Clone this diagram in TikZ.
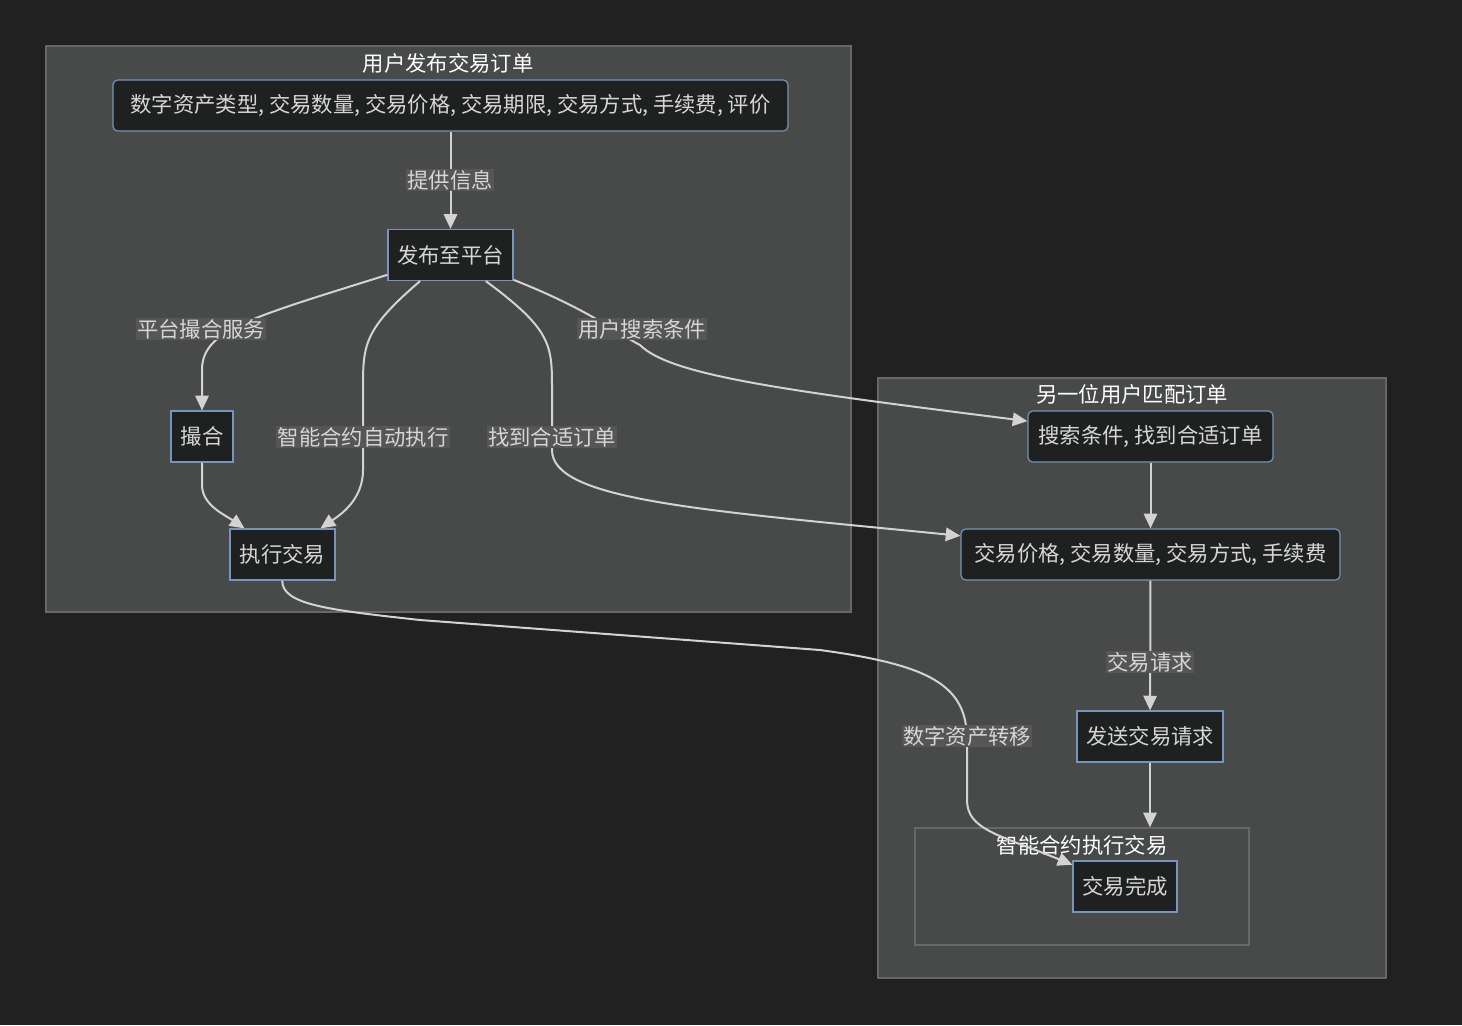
\documentclass[tikz,border=0pt]{standalone}
\usepackage{fontspec}
\usepackage{tikz}
\usetikzlibrary{arrows.meta,fit}
\newfontfamily\cjk{Noto Sans CJK SC}
\definecolor{canvas}{RGB}{33,33,33}
\definecolor{clusterfill}{RGB}{72,73,73}
\definecolor{clusterline}{RGB}{104,104,104}
\definecolor{boxfill}{RGB}{31,32,32}
\definecolor{boxline}{RGB}{118,148,188}
\definecolor{inktext}{RGB}{214,214,214}
\definecolor{labelfill}{RGB}{86,86,86}
\definecolor{edgeline}{RGB}{211,211,211}

\begin{document}
\begin{tikzpicture}[x=0.75pt, y=-0.75pt,
        every node/.style = {font=\cjk\fontsize{16pt}{19pt}\selectfont, text=inktext},
        box/.style = {shape=rectangle, draw=boxline, fill=boxfill, line width=0.9pt,
                      minimum height=38.25pt, inner sep=0pt},
        rbox/.style = {box, rounded corners=3.5pt},
        cluster/.style = {draw=clusterline, fill=clusterfill, line width=0.9pt, inner sep=0pt},
        cltitle/.style = {text=white},
        lbl/.style = {fill=labelfill, inner sep=1pt},
        flow/.style = {draw=edgeline, line width=1.5pt,
                       -{Triangle[length=11pt,width=10pt]}}]
    \fill[canvas] (0,0) rectangle (1462,1025);

    \node[cluster, fit={(46,46) (851,612)}] (c1) {};
    \node[cluster, fit={(878,378) (1386,978)}] (c2) {};
    \node[cluster, fit={(915,828) (1249,945)}] (c3) {};
    \node[cltitle] (t1) at (448,63) {用户发布交易订单};
    \node[cltitle] (t2) at (1132,394) {另一位用户匹配订单};
    \node[cltitle] (t3) at (1082,845) {智能合约执行交易};

    \node[rbox, minimum width=506.25pt] (info) at (450.5,105.5)
        {数字资产类型, 交易数量, 交易价格, 交易期限, 交易方式, 手续费, 评价};
    \node[box, minimum width=93.75pt] (pub) at (450.5,255) {发布至平台};
    \node[box, minimum width=46.5pt] (match) at (202,436.5) {撮合};
    \node[box, minimum width=78.75pt] (exec) at (282.5,554.5) {执行交易};
    \node[rbox, minimum width=183.75pt] (search) at (1150.5,436.5) {搜索条件, 找到合适订单};
    \node[rbox, minimum width=284.25pt] (price) at (1150.5,554.5)
        {交易价格, 交易数量, 交易方式, 手续费};
    \node[box, minimum width=109.5pt] (send) at (1150,736.5) {发送交易请求};
    \node[box, minimum width=78pt] (done) at (1125,886.5) {交易完成};

    \draw[flow] (info) -- (pub);
    \draw[flow] (pub) .. controls (250,318) and (202,330) .. (202,370) -- (match);
    \draw[flow] (pub) .. controls (363,330) and (363,345) .. (363,390) -- (363,470)
        .. controls (363,500) and (340,515) .. (exec);
    \draw[flow] (match) -- (202,485) .. controls (202,505) and (225,515) .. (exec);
    \draw[flow] (pub) .. controls (552,330) and (552,345) .. (552,390) -- (552,450)
        .. controls (552,500) and (700,510) .. (price);
    \draw[flow] (pub) .. controls (590,310) and (620,335) .. (640,345)
        .. controls (670,375) and (780,390) .. (search);
    \draw[flow] (search) -- (price);
    \draw[flow] (price) -- (send);
    \draw[flow] (send) -- (send |- c3.north);
    \draw[flow] (exec) .. controls (282,605) and (330,610) .. (420,620) -- (820,650)
        .. controls (930,665) and (967,685) .. (967,740) -- (967,800)
        .. controls (967,830) and (1000,835) .. (done);

    \node[lbl] (l1) at (450,180) {提供信息};
    \node[lbl] (l2) at (201,329) {平台撮合服务};
    \node[lbl] (l3) at (363,437) {智能合约自动执行};
    \node[lbl] (l4) at (552,437) {找到合适订单};
    \node[lbl] (l5) at (642,329) {用户搜索条件};
    \node[lbl] (l6) at (1150,662) {交易请求};
    \node[lbl] (l7) at (967,736) {数字资产转移};
\end{tikzpicture}
\end{document}
